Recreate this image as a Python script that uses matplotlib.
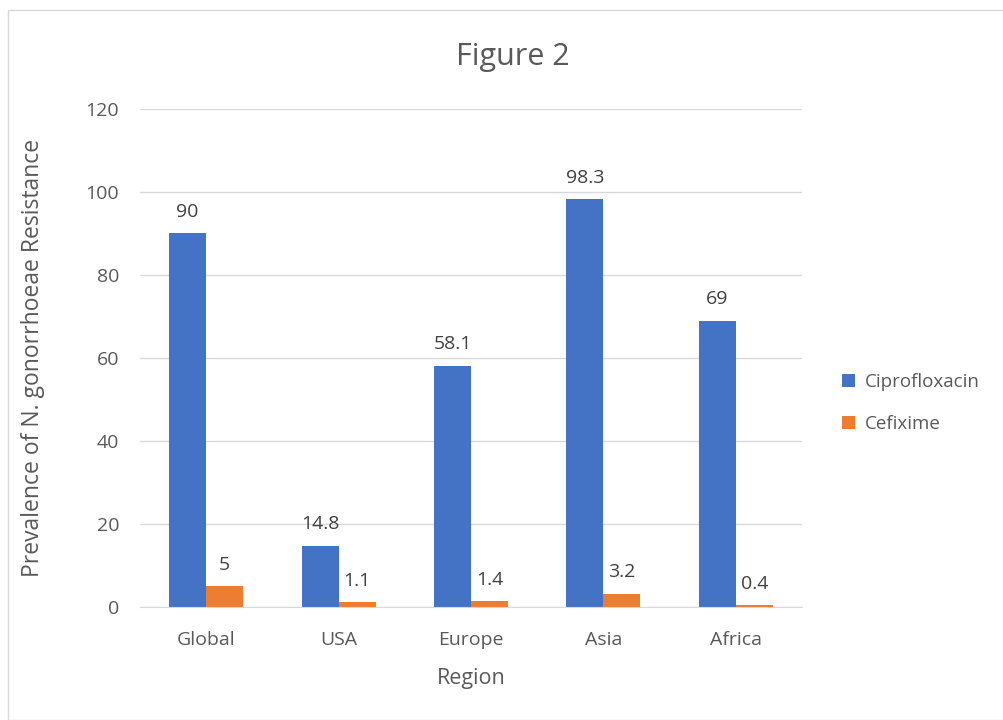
import matplotlib.pyplot as plt
import numpy as np
from matplotlib.patches import Rectangle

# Data
regions = ["Global", "USA", "Europe", "Asia", "Africa"]
cipro = [90, 14.8, 58.1, 98.3, 69]
cefix = [5, 1.1, 1.4, 3.2, 0.4]
cipro_lbl = ["90", "14.8", "58.1", "98.3", "69"]
cefix_lbl = ["5", "1.1", "1.4", "3.2", "0.4"]

plt.rcParams['font.family'] = ['Open Sans', 'DejaVu Sans']
txt = "#595959"

fig = plt.figure(figsize=(10.04, 7.2), dpi=100)
fig.patches.append(Rectangle((8 / 1004, 0.0), 1.2, 710 / 720, transform=fig.transFigure,
                             fill=False, edgecolor="#D9D9D9", linewidth=1))
ax = fig.add_axes([140 / 1004, 1 - 607 / 720, 662 / 1004, 498 / 720])

x = np.arange(len(regions))
w = 0.28
b1 = ax.bar(x - w / 2, cipro, w, color="#4472C4", label="Ciprofloxacin")
b2 = ax.bar(x + w / 2, cefix, w, color="#ED7D31", label="Cefixime")
ax.bar_label(b1, labels=cipro_lbl, padding=9, fontsize=14, color="#404040")
ax.bar_label(b2, labels=cefix_lbl, padding=9, fontsize=14, color="#404040")

ax.set_xlim(-0.5, 4.5)
ax.set_ylim(0, 120)
ax.set_yticks(range(0, 121, 20))
ax.set_xticks(x)
ax.set_xticklabels(regions)
ax.tick_params(axis="both", length=0, labelsize=14, colors=txt)
ax.tick_params(axis="y", pad=15)
ax.tick_params(axis="x", pad=17)
ax.grid(axis="y", color="#D9D9D9", linewidth=1)
ax.set_axisbelow(True)
for s in ["top", "right", "left"]:
    ax.spines[s].set_visible(False)
ax.spines["bottom"].set_color("#D9D9D9")

ax.set_xlabel("Region", fontsize=15.5, color=txt)
ax.set_ylabel("Prevalence of N. gonorrhoeae Resistance", fontsize=16.5, color=txt)
ax.xaxis.set_label_coords(0.5, -0.1225)
ax.yaxis.set_label_coords(-0.143, 0.5)
fig.text(0.511, 1 - 57 / 720, "Figure 2", ha="center", va="center", fontsize=22, color=txt)

ax.legend(loc="center left", bbox_to_anchor=(1.035, 0.41), frameon=False, fontsize=13.5,
          labelcolor=txt, handlelength=0.7, handleheight=0.7, labelspacing=1.3,
          handletextpad=0.5)

fig.savefig("out.png", dpi=100)
